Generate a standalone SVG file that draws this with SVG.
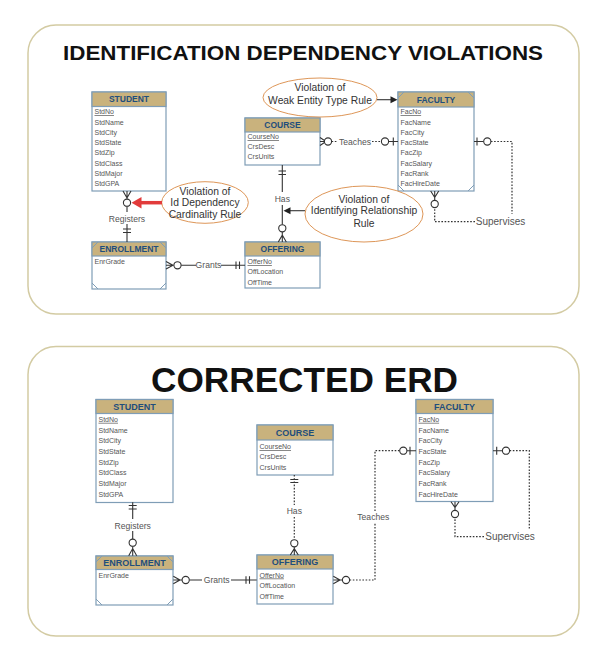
<svg xmlns="http://www.w3.org/2000/svg" width="602" height="652" viewBox="0 0 602 652">
<style>
text{font-family:"Liberation Sans",Arial,sans-serif}
.panel{fill:#fff;stroke:#d3cba3;stroke-width:1.5}
.title{font-weight:bold;fill:#111;text-anchor:middle}
.box{fill:#fff;stroke:#7f9db6;stroke-width:1.2}
.hdr{fill:#c9b27d;stroke:#7f9db6;stroke-width:1.2}
.ht{font-weight:bold;font-size:8.5px;fill:#1f4e7c;text-anchor:middle}
.ht2{font-weight:bold;font-size:9px;fill:#1f4e7c;text-anchor:middle}
.at{font-size:7px;fill:#555}
.pk{text-decoration:underline}
.cn{stroke:#7f9db6;stroke-width:1}
.ln{stroke:#333;stroke-width:1.1;fill:none}
.dl{stroke:#333;stroke-width:1.2;stroke-dasharray:1.6 1.6;fill:none}
.ci{fill:#fff;stroke:#333;stroke-width:1.1}
.lbl{font-size:8.6px;fill:#555;text-anchor:middle}
.lbl2{font-size:10px;fill:#555;text-anchor:middle}
.ell{fill:#fff;stroke:#d98a45;stroke-width:0.9}
.et{font-size:10.3px;fill:#333;text-anchor:middle}
</style>
<rect width="602" height="652" fill="#fff"/>
<rect class="panel" x="28" y="25" width="551" height="289" rx="28"/>
<rect class="panel" x="28" y="346.5" width="551" height="289.5" rx="28"/>
<text class="title" x="303" y="60" font-size="20.5" textLength="480" lengthAdjust="spacingAndGlyphs">IDENTIFICATION DEPENDENCY VIOLATIONS</text>
<text class="title" x="304.5" y="392" font-size="35" textLength="307" lengthAdjust="spacingAndGlyphs">CORRECTED ERD</text>

<!-- TOP PANEL -->
<g id="top-student">
<rect class="box" x="92" y="92" width="74" height="99"/>
<rect class="hdr" x="92" y="92" width="74" height="14.5"/>
<text class="ht" x="129" y="102.4">STUDENT</text>
<text class="at pk" x="94.5" y="114.2">StdNo</text>
<text class="at" x="94.5" y="124.5">StdName</text>
<text class="at" x="94.5" y="134.8">StdCity</text>
<text class="at" x="94.5" y="145.1">StdState</text>
<text class="at" x="94.5" y="155.4">StdZip</text>
<text class="at" x="94.5" y="165.7">StdClass</text>
<text class="at" x="94.5" y="176">StdMajor</text>
<text class="at" x="94.5" y="186.3">StdGPA</text>
</g>
<g id="top-enrollment">
<rect class="box" x="92" y="242" width="74" height="47"/>
<rect class="hdr" x="92" y="242" width="74" height="14"/>
<text class="ht" x="129" y="252.2">ENROLLMENT</text>
<text class="at" x="94.5" y="263.5">EnrGrade</text>
<path class="cn" d="M92,248 L98,242 M160,242 L166,248 M92,283 L98,289 M160,289 L166,283"/>
</g>
<g id="top-course">
<rect class="box" x="245" y="118" width="75" height="47"/>
<rect class="hdr" x="245" y="118" width="75" height="14"/>
<text class="ht" x="282.5" y="128.2">COURSE</text>
<text class="at pk" x="247.5" y="139.2">CourseNo</text>
<text class="at" x="247.5" y="149.2">CrsDesc</text>
<text class="at" x="247.5" y="159.2">CrsUnits</text>
</g>
<g id="top-offering">
<rect class="box" x="245" y="242" width="75" height="46"/>
<rect class="hdr" x="245" y="242" width="75" height="14"/>
<text class="ht" x="282.5" y="252.2">OFFERING</text>
<text class="at pk" x="247.5" y="264.2">OfferNo</text>
<text class="at" x="247.5" y="274.2">OffLocation</text>
<text class="at" x="247.5" y="284.6">OffTime</text>
</g>
<g id="top-faculty">
<rect class="box" x="398" y="92" width="76" height="99"/>
<rect class="hdr" x="398" y="92" width="76" height="15"/>
<text class="ht" x="436" y="102.7">FACULTY</text>
<text class="at pk" x="400.5" y="114.2">FacNo</text>
<text class="at" x="400.5" y="124.5">FacName</text>
<text class="at" x="400.5" y="134.8">FacCity</text>
<text class="at" x="400.5" y="145.1">FacState</text>
<text class="at" x="400.5" y="155.4">FacZip</text>
<text class="at" x="400.5" y="165.7">FacSalary</text>
<text class="at" x="400.5" y="176">FacRank</text>
<text class="at" x="400.5" y="186.3">FacHireDate</text>
<path class="cn" d="M398,98 L404,92 M468,92 L474,98 M398,185 L404,191 M468,191 L474,185"/>
</g>
<g id="top-callouts">
<ellipse class="ell" cx="205" cy="202.5" rx="43.3" ry="20.8"/>
<text class="et" x="205" y="194.6">Violation of</text>
<text class="et" x="205" y="206.3">Id Dependency</text>
<text class="et" x="205" y="217.9">Cardinality Rule</text>
<ellipse class="ell" cx="320" cy="97.5" rx="57" ry="19.5"/>
<text class="et" x="320" y="91.3">Violation of</text>
<text class="et" x="320" y="103.6">Weak Entity Type Rule</text>
<ellipse class="ell" cx="364" cy="214" rx="59" ry="28"/>
<text class="et" x="364" y="202.6">Violation of</text>
<text class="et" x="364" y="214.3">Identifying Relationship</text>
<text class="et" x="364" y="226.9">Rule</text>
</g>
<g id="top-connectors">
<!-- Registers -->
<path class="ln" d="M123,191 L127,198 L131,191 M127,191 V199 M127,206.3 V212 M127,224 V242 M123,229 H131 M123,232.5 H131"/>
<circle class="ci" cx="127" cy="202.7" r="3.6"/>
<text class="lbl" x="127" y="222">Registers</text>
<!-- red arrow -->
<path d="M162,202.7 H140" stroke="#e23b3b" stroke-width="3.5"/>
<polygon points="131.5,202.7 141.5,197 141.5,208.4" fill="#e23b3b"/>
<!-- Grants -->
<path class="ln" d="M166,261.5 L173,265.3 L166,269 M166,265.3 H173.9 M181.1,265.3 H196 M221,265.3 H245 M236,261.5 V269 M239.5,261.5 V269"/>
<circle class="ci" cx="177.5" cy="265.3" r="3.6"/>
<text class="lbl" x="208.5" y="268.3">Grants</text>
<!-- Has -->
<path class="ln" d="M282.3,165 V192 M278.5,171 H286 M278.5,174.5 H286 M282.3,205 V224.7 M282.3,231.9 V242 M278.3,242 L282.3,235 L286.3,242"/>
<circle class="ci" cx="282.3" cy="228.3" r="3.6"/>
<text class="lbl" x="282.3" y="202">Has</text>
<path class="ln" d="M305,210.7 H289"/>
<polygon points="283.5,210.7 290.5,207.2 290.5,214.2" fill="#222"/>
<!-- Weak entity arrow -->
<path class="ln" d="M377,99.7 H391"/>
<polygon points="397.5,99.7 390.5,96.2 390.5,103.2" fill="#222"/>
<!-- Teaches -->
<path class="ln" d="M320,137.5 L326,141.5 L320,145.5 M320,141.5 H324.4 M388.6,141.5 H398 M393.3,137.5 V145.5"/>
<circle class="ci" cx="328" cy="141.5" r="3.6"/>
<path class="dl" d="M331.6,141.5 H338 M372,141.5 H381.4"/>
<circle class="ci" cx="385" cy="141.5" r="3.6"/>
<text class="lbl" x="355" y="144.5">Teaches</text>
<!-- Supervises -->
<path class="ln" d="M474,141.5 H483.7 M477,137.5 V145.5"/>
<circle class="ci" cx="487.3" cy="141.5" r="3.6"/>
<path class="dl" d="M490.9,141.5 H512 V214 M475,221.7 H434.7 V207.6"/>
<circle class="ci" cx="434.7" cy="204" r="3.6"/>
<path class="ln" d="M434.7,200.4 V191 M430.7,191 L434.7,197.5 L438.7,191"/>
<text class="lbl2" x="500.5" y="225.2">Supervises</text>
</g>

<!-- BOTTOM PANEL -->
<g id="bot-student">
<rect class="box" x="96" y="399.5" width="77" height="103"/>
<rect class="hdr" x="96" y="399.5" width="77" height="14"/>
<text class="ht2" x="134.5" y="409.8">STUDENT</text>
<text class="at pk" x="98.5" y="421.8">StdNo</text>
<text class="at" x="98.5" y="432.5">StdName</text>
<text class="at" x="98.5" y="443.2">StdCity</text>
<text class="at" x="98.5" y="453.9">StdState</text>
<text class="at" x="98.5" y="464.6">StdZip</text>
<text class="at" x="98.5" y="475.3">StdClass</text>
<text class="at" x="98.5" y="486">StdMajor</text>
<text class="at" x="98.5" y="496.7">StdGPA</text>
</g>
<g id="bot-enrollment">
<rect class="box" x="96" y="556" width="77" height="49"/>
<rect class="hdr" x="96" y="556" width="77" height="13.5"/>
<text class="ht2" x="134.5" y="566">ENROLLMENT</text>
<text class="at" x="98.5" y="577.8">EnrGrade</text>
<path class="cn" d="M96,562 L102,556 M167,556 L173,562 M96,599 L102,605 M167,605 L173,599"/>
</g>
<g id="bot-course">
<rect class="box" x="257" y="425" width="76" height="50"/>
<rect class="hdr" x="257" y="425" width="76" height="15"/>
<text class="ht2" x="295" y="435.7">COURSE</text>
<text class="at pk" x="259.5" y="449.2">CourseNo</text>
<text class="at" x="259.5" y="459.2">CrsDesc</text>
<text class="at" x="259.5" y="469.8">CrsUnits</text>
</g>
<g id="bot-offering">
<rect class="box" x="257" y="555" width="76" height="49"/>
<rect class="hdr" x="257" y="555" width="76" height="14"/>
<text class="ht2" x="295" y="565.3">OFFERING</text>
<text class="at pk" x="259.5" y="577.5">OfferNo</text>
<text class="at" x="259.5" y="588.2">OffLocation</text>
<text class="at" x="259.5" y="599.2">OffTime</text>
</g>
<g id="bot-faculty">
<rect class="box" x="416" y="399.5" width="77" height="102"/>
<rect class="hdr" x="416" y="399.5" width="77" height="14"/>
<text class="ht2" x="454.5" y="409.8">FACULTY</text>
<text class="at pk" x="418.5" y="421.8">FacNo</text>
<text class="at" x="418.5" y="432.5">FacName</text>
<text class="at" x="418.5" y="443.2">FacCity</text>
<text class="at" x="418.5" y="453.9">FacState</text>
<text class="at" x="418.5" y="464.6">FacZip</text>
<text class="at" x="418.5" y="475.3">FacSalary</text>
<text class="at" x="418.5" y="486">FacRank</text>
<text class="at" x="418.5" y="496.7">FacHireDate</text>
</g>
<g id="bot-connectors">
<!-- Registers -->
<path class="ln" d="M132.7,502.3 V519 M128.7,505.5 H136.7 M128.7,509 H136.7 M132.7,531 V539.1 M132.7,546.3 V555.7 M128.7,555.7 L132.7,548.6 L136.7,555.7"/>
<circle class="ci" cx="132.7" cy="542.7" r="3.6"/>
<text class="lbl" x="132.7" y="528.8">Registers</text>
<!-- Grants -->
<path class="ln" d="M173.3,576.3 L180,580 L173.3,583.7 M173.3,580 H182.1 M189.3,580 H202 M231,580 H256.7 M246,576.3 V583.7 M249.5,576.3 V583.7"/>
<circle class="ci" cx="185.7" cy="580" r="3.6"/>
<text class="lbl" x="216.7" y="583">Grants</text>
<!-- Has -->
<path class="dl" d="M294.3,475 V505 M294.3,517 V539.7"/>
<path class="ln" d="M290.3,479.5 H298.3 M290.3,482.5 H298.3 M294.3,546.9 V555 M290.3,555 L294.3,548.6 L298.3,555"/>
<circle class="ci" cx="294.3" cy="543.3" r="3.6"/>
<text class="lbl" x="294.3" y="513.7">Has</text>
<!-- Teaches -->
<path class="ln" d="M333.3,576.3 L340,580 L333.3,583.7 M333.3,580 H342.4 M407,450.7 H416 M410,446.7 V454.7"/>
<circle class="ci" cx="346" cy="580" r="3.6"/>
<path class="dl" d="M349.6,580 H375 V522.5 M375,511 V450.7 H399.7"/>
<circle class="ci" cx="403.3" cy="450.7" r="3.6"/>
<text class="lbl" x="373.3" y="519.7">Teaches</text>
<!-- Supervises -->
<path class="ln" d="M493,450.7 H502.4 M496.7,446.7 V454.7"/>
<circle class="ci" cx="506" cy="450.7" r="3.6"/>
<path class="dl" d="M509.6,450.7 H529.3 V530 M484,536.7 H455 V517.6"/>
<circle class="ci" cx="455" cy="514" r="3.6"/>
<path class="ln" d="M455,510.4 V501.7 M451,501.7 L455,507.5 L459,501.7"/>
<text class="lbl2" x="510" y="540.2">Supervises</text>
</g>
</svg>
